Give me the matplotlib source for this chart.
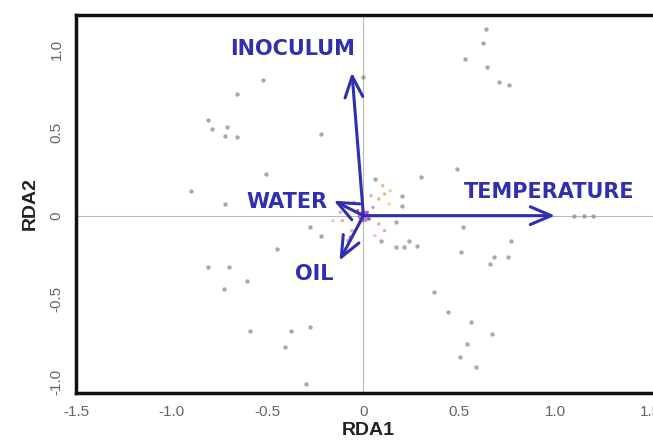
import matplotlib.pyplot as plt

# site scores (grey dots)
site_x = [-0.526, -0.66, -0.81, -0.79, -0.71, -0.725, -0.66, -0.22, -0.51, -0.90, -0.72,
          0.64, 0.625, 0.53, 0.646, 0.71, 0.76, 0.0, 0.49, 0.30, 0.52,
          -0.45, -0.81, -0.70, -0.61, -0.73, -0.59, -0.38, -0.28, -0.41, -0.30, -0.28, -0.22,
          0.09, 0.17, 0.21, 0.24, 0.28, 0.51, 0.77, 0.68, 0.755, 0.66,
          0.37, 0.44, 0.56, 0.67, 0.54, 0.505, 0.59,
          0.06, 0.20, 0.20, 0.17, -0.07, 1.10, 1.15, 1.20]
site_y = [0.816, 0.73, 0.577, 0.52, 0.53, 0.48, 0.47, 0.49, 0.25, 0.15, 0.07,
          1.12, 1.04, 0.94, 0.89, 0.80, 0.785, 0.83, 0.28, 0.23, -0.07,
          -0.20, -0.31, -0.31, -0.39, -0.44, -0.69, -0.69, -0.67, -0.79, -1.01, -0.07, -0.12,
          -0.15, -0.19, -0.19, -0.15, -0.18, -0.22, -0.15, -0.25, -0.25, -0.29,
          -0.46, -0.58, -0.64, -0.71, -0.77, -0.85, -0.91,
          0.22, 0.12, 0.06, -0.04, -0.13, 0.0, 0.0, 0.0]

# species scores (small coloured dots round the origin)
spec_x = [0.08, 0.11, 0.135, 0.04, 0.05, -0.11, -0.16, 0.11, -0.06, -0.08, 0.08,
          0.02, -0.03, 0.03, -0.02, 0.06, -0.05, 0.14, 0.10, -0.12]
spec_y = [0.10, 0.13, 0.07, 0.12, 0.05, -0.03, -0.03, -0.09, -0.09, -0.15, -0.05,
          0.02, 0.03, -0.02, -0.04, -0.12, 0.08, 0.15, 0.18, 0.02]
spec_col = ['#e8a060', '#e8a060', '#f0c080', '#e090b0', '#d070c0', '#e8a060', '#f0c080',
            '#e090b0', '#e8a060', '#d070c0', '#e090b0', '#b040b0', '#b040b0', '#a030a0',
            '#c050b0', '#f0c080', '#e8a060', '#f0c080', '#e8a060', '#e090b0']

# environmental vectors
env_names = ['INOCULUM', 'TEMPERATURE', 'WATER', 'OIL']
env_x = [-0.06, 1.00, -0.155, -0.125]
env_y = [0.86, 0.0, 0.09, -0.27]
lab_x = [-0.37, 0.97, -0.40, -0.255]
lab_y = [1.00, 0.14, 0.085, -0.35]

blue = '#2f2fb0'

fig = plt.figure(figsize=(6.53, 4.43), dpi=100)
ax = fig.add_axes([0.1164, 0.113, 0.895, 0.853])
ax.set_xlim(-1.50, 1.55)
ax.set_ylim(-1.065, 1.205)

ax.axhline(0, color='#b8b8b8', lw=0.8, zorder=0)
ax.axvline(0, color='#b8b8b8', lw=0.8, zorder=0)

ax.scatter(site_x, site_y, s=10, color='#8c8c8c', alpha=0.75, linewidths=0, zorder=2)
ax.scatter(spec_x, spec_y, s=6, c=spec_col, alpha=0.8, linewidths=0, zorder=2)
ax.scatter([0], [0], s=70, color='#a02aa0', alpha=0.6, linewidths=0, zorder=3)

for name, x, y, lx, ly in zip(env_names, env_x, env_y, lab_x, lab_y):
    ax.annotate('', xy=(x, y), xytext=(0, 0),
                arrowprops=dict(arrowstyle='->,head_length=0.75,head_width=0.32',
                                color=blue, lw=2.2, mutation_scale=20,
                                shrinkA=0, shrinkB=0), zorder=4)
    ax.text(lx, ly, name, color=blue, fontsize=15, fontweight='bold',
            family='DejaVu Sans', ha='center', va='center', zorder=5)

for side in ['left', 'bottom', 'top', 'right']:
    ax.spines[side].set_linewidth(2.5)
    ax.spines[side].set_color('#111111')

ax.set_xticks([-1.5, -1.0, -0.5, 0, 0.5, 1.0, 1.5])
ax.set_xticklabels(['-1.5', '-1.0', '-0.5', '0', '0.5', '1.0', '1.5'])
ax.set_yticks([-1.0, -0.5, 0, 0.5, 1.0])
ax.set_yticklabels(['-1.0', '-0.5', '0', '0.5', '1.0'], rotation=90, va='center')
ax.tick_params(length=0, labelsize=11, labelcolor='#666666', pad=9)
for t in ax.get_xticklabels() + ax.get_yticklabels():
    t.set_family('Liberation Sans')

ax.set_xlabel('RDA1', fontsize=14, fontweight='bold', family='Liberation Sans',
              color='#222222', labelpad=2)
ax.set_ylabel('RDA2', fontsize=14, fontweight='bold', family='Liberation Sans',
              color='#222222', labelpad=8)

fig.savefig('out.png', dpi=100)
